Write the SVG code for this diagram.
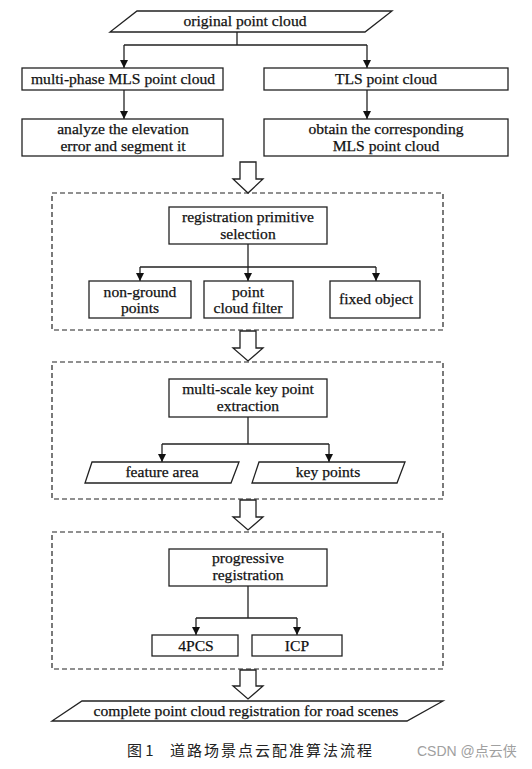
<svg xmlns="http://www.w3.org/2000/svg" width="532" height="769" viewBox="0 0 532 769">
<defs>
<marker id="ah" viewBox="0 0 10 10" refX="10" refY="5" markerWidth="8" markerHeight="8" markerUnits="userSpaceOnUse" orient="auto">
<path d="M0,0 L10,5 L0,10 z" fill="#111"/>
</marker>
<style>
.n{fill:#fff;stroke:#222;stroke-width:1.3}
.t{font-family:"Liberation Serif","DejaVu Serif",serif;font-size:15.6px;fill:#111;stroke:#111;stroke-width:0.25;text-anchor:middle}
.c{fill:none;stroke:#222;stroke-width:1.3}
.d{fill:none;stroke:#222;stroke-width:1.2;stroke-dasharray:5,3}
.b{fill:#fff;stroke:#222;stroke-width:1.3}
</style>
</defs>
<rect width="532" height="769" fill="#fff"/>
<g id="groups">
<rect class="d" x="52" y="193" width="391" height="137"/>
<rect class="d" x="52" y="362" width="391" height="137"/>
<rect class="d" x="52" y="532" width="391" height="137"/>
</g>
<g id="connectors">
<path class="c" d="M237,32 V45 M124,45 H367"/>
<path class="c" d="M124,45 V68" marker-end="url(#ah)"/>
<path class="c" d="M367,45 V68" marker-end="url(#ah)"/>
<path class="c" d="M124,90 V119" marker-end="url(#ah)"/>
<path class="c" d="M367,90 V119" marker-end="url(#ah)"/>
<path class="c" d="M248,244 V267 M140,267 H376"/>
<path class="c" d="M140,267 V281" marker-end="url(#ah)"/>
<path class="c" d="M248,267 V281" marker-end="url(#ah)"/>
<path class="c" d="M376,267 V281" marker-end="url(#ah)"/>
<path class="c" d="M248,417 V444 M162,444 H329"/>
<path class="c" d="M162,444 V462" marker-end="url(#ah)"/>
<path class="c" d="M329,444 V462" marker-end="url(#ah)"/>
<path class="c" d="M248,586 V618 M196,618 H297"/>
<path class="c" d="M196,618 V635" marker-end="url(#ah)"/>
<path class="c" d="M297,618 V635" marker-end="url(#ah)"/>
<path class="b" d="M240,162 H256 V179 H263 L248,193 L233,179 H240 Z"/>
<path class="b" d="M240,331 H256 V348 H263 L248,361 L233,348 H240 Z"/>
<path class="b" d="M240,500 H256 V517 H263 L248,530 L233,517 H240 Z"/>
<path class="b" d="M240,670 H256 V686 H263 L248,699 L233,686 H240 Z"/>
</g>
<g id="n-original">
<polygon class="n" points="137,11 392,11 365,32 110,32"/>
<text class="t" x="245" y="26">original point cloud</text>
</g>
<g id="n-mls">
<rect class="n" x="22" y="68" width="201" height="22"/>
<text class="t" x="123" y="84">multi-phase MLS point cloud</text>
</g>
<g id="n-tls">
<rect class="n" x="264" y="68" width="244" height="22"/>
<text class="t" x="386" y="84">TLS point cloud</text>
</g>
<g id="n-analyze">
<rect class="n" x="22" y="119" width="201" height="37"/>
<text class="t" x="123" y="134">analyze the elevation</text>
<text class="t" x="123" y="151">error and segment it</text>
</g>
<g id="n-obtain">
<rect class="n" x="264" y="119" width="244" height="37"/>
<text class="t" x="386" y="134">obtain the corresponding</text>
<text class="t" x="386" y="151">MLS point cloud</text>
</g>
<g id="n-regprim">
<rect class="n" x="169" y="207" width="158" height="37"/>
<text class="t" x="248" y="222">registration primitive</text>
<text class="t" x="248" y="239">selection</text>
</g>
<g id="n-nonground">
<rect class="n" x="89" y="281" width="102" height="37"/>
<text class="t" x="140" y="297">non-ground</text>
<text class="t" x="140" y="313">points</text>
</g>
<g id="n-filter">
<rect class="n" x="204" y="281" width="89" height="37"/>
<text class="t" x="248" y="297">point</text>
<text class="t" x="248" y="313">cloud filter</text>
</g>
<g id="n-fixed">
<rect class="n" x="330" y="281" width="90" height="37"/>
<text class="t" x="376" y="304">fixed object</text>
</g>
<g id="n-multiscale">
<rect class="n" x="169" y="379" width="158" height="38"/>
<text class="t" x="248" y="394">multi-scale key point</text>
<text class="t" x="248" y="411">extraction</text>
</g>
<g id="n-feature">
<polygon class="n" points="92,462 239,462 231,483 85,483"/>
<text class="t" x="162" y="477">feature area</text>
</g>
<g id="n-keypoints">
<polygon class="n" points="259,462 405,462 397,483 252,483"/>
<text class="t" x="328" y="477">key points</text>
</g>
<g id="n-progressive">
<rect class="n" x="169" y="549" width="158" height="37"/>
<text class="t" x="248" y="563">progressive</text>
<text class="t" x="248" y="580">registration</text>
</g>
<g id="n-4pcs">
<rect class="n" x="152" y="635" width="86" height="21"/>
<text class="t" x="196" y="651">4PCS</text>
</g>
<g id="n-icp">
<rect class="n" x="252" y="635" width="90" height="21"/>
<text class="t" x="297" y="651">ICP</text>
</g>
<g id="n-complete">
<polygon class="n" points="82,701 443,701 407,721 52,721"/>
<text class="t" x="246" y="716">complete point cloud registration for road scenes</text>
</g>
<g id="caption">
<text x="127" y="756" font-family="'Noto Sans CJK SC',sans-serif" font-size="15" fill="#222">图 1</text>
<text x="170" y="756" font-family="'Noto Sans CJK SC',sans-serif" font-size="15" letter-spacing="2" fill="#222">道路场景点云配准算法流程</text>
<text x="417" y="756" font-family="'Liberation Sans','Noto Sans CJK SC',sans-serif" font-size="14" fill="#a0a0a0">CSDN @点云侠</text>
</g>
</svg>
